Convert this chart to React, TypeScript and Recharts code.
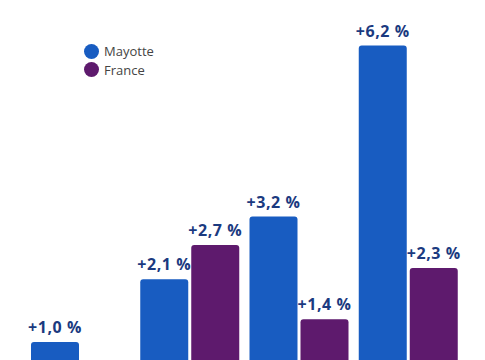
import React from "react";
import { BarChart, Bar, XAxis, YAxis, LabelList } from "recharts";

const categories = ["Période 1", "Période 2", "Période 3", "Période 4"];
const mayotteValues = [1.0, 2.1, 3.2, 6.2];
const franceValues = [0.2, 2.7, 1.4, 2.3];
const seriesNames = ["Mayotte", "France"];
const seriesColors = ["#185cc1", "#5e1a6d"];

const data = categories.map((c, i) => ({
  cat: c,
  mayotte: mayotteValues[i],
  france: franceValues[i],
}));

const fmt = (v: any) => `+${Number(v).toFixed(1).replace(".", ",")} %`;

const ValueLabel = (props: any) => {
  const { x, y, width, value } = props;
  return (
    <text
      x={Number(x) + Number(width) / 2}
      y={Number(y) - 9}
      textAnchor="middle"
      fill="#1b3a80"
      style={{
        fontFamily: "'Open Sans', sans-serif",
        fontWeight: 700,
        fontSize: 16,
        letterSpacing: 0.6,
      }}
    >
      {fmt(value)}
    </text>
  );
};

export default function App() {
  return (
    <div
      style={{
        position: "absolute",
        left: 0,
        top: 0,
        width: 485,
        height: 360,
        overflow: "hidden",
        background: "#fff",
      }}
    >
      <BarChart
        width={485}
        height={399}
        data={data}
        margin={{ top: 0, right: 22, left: 26, bottom: 0 }}
        barCategoryGap={5}
        barGap={3}
      >
        <XAxis dataKey="cat" hide />
        <YAxis hide domain={[0, 7]} />
        <Bar dataKey="mayotte" name="Mayotte" fill={seriesColors[0]} radius={[3, 3, 0, 0]} isAnimationActive={false}>
          <LabelList dataKey="mayotte" content={<ValueLabel />} />
        </Bar>
        <Bar dataKey="france" name="France" fill={seriesColors[1]} radius={[3, 3, 0, 0]} isAnimationActive={false}>
          <LabelList dataKey="france" content={<ValueLabel />} />
        </Bar>
      </BarChart>
      <div
        style={{
          position: "absolute",
          left: 84,
          top: 42,
          fontFamily: "'Open Sans', sans-serif",
          fontSize: 13,
          color: "#444",
        }}
      >
        {seriesNames.map((n, i) => (
          <div key={n} style={{ display: "flex", alignItems: "center", height: 18.5 }}>
            <span
              style={{
                display: "inline-block",
                width: 15,
                height: 15,
                borderRadius: "50%",
                background: seriesColors[i],
                marginRight: 5,
              }}
            />
            <span>{n}</span>
          </div>
        ))}
      </div>
    </div>
  );
}
